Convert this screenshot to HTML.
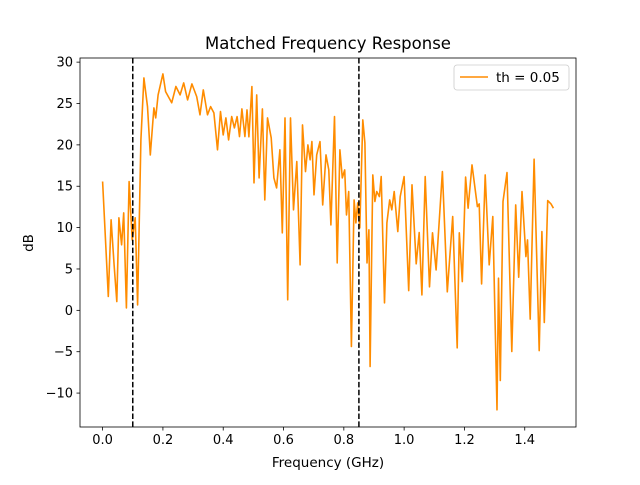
<!DOCTYPE html>
<html><head><meta charset="utf-8"><style>
body{margin:0;background:#fff}
svg{font-family:"DejaVu Sans","Liberation Sans",sans-serif}
</style></head><body>
<svg id="chart" width="640" height="480" viewBox="0 0 640 480" xmlns="http://www.w3.org/2000/svg">
<rect width="640" height="480" fill="#fff"/>
<text x="328" y="49" font-size="16.5" text-anchor="middle" fill="#000">Matched Frequency Response</text>
<g id="plot"></g>
<rect x="80" y="58" width="496" height="369" fill="none" stroke="#000" stroke-width="0.8"/>
<g id="ticks"></g>
<text x="328" y="467" font-size="13.5" text-anchor="middle">Frequency (GHz)</text>
<text x="33" y="243" font-size="13.5" text-anchor="middle" transform="rotate(-90 33 243)">dB</text>
<g>
<rect x="454" y="65" width="115" height="25" rx="3" fill="#fff" stroke="#ccc" stroke-width="0.8"/>
<line x1="460" y1="77" x2="488" y2="77" stroke="#ff8c00" stroke-width="1.5"/>
<text x="496" y="82" font-size="13.5">th = 0.05</text>
</g>
</svg>
<script>
const freq=[0,0.019,0.028,0.038,0.047,0.054,0.063,0.070,0.079,0.088,0.098,0.108,0.116,0.127,0.137,0.149,0.158,0.170,0.176,0.184,0.200,0.209,0.229,0.243,0.257,0.269,0.282,0.296,0.312,0.323,0.334,0.348,0.358,0.369,0.381,0.391,0.400,0.409,0.418,0.428,0.437,0.446,0.454,0.462,0.472,0.479,0.485,0.495,0.502,0.511,0.519,0.530,0.538,0.547,0.559,0.568,0.577,0.588,0.596,0.605,0.614,0.623,0.633,0.644,0.655,0.663,0.673,0.681,0.688,0.694,0.701,0.710,0.721,0.730,0.741,0.750,0.757,0.769,0.778,0.787,0.795,0.803,0.809,0.816,0.825,0.834,0.840,0.846,0.853,0.863,0.870,0.877,0.883,0.887,0.896,0.903,0.909,0.918,0.924,0.935,0.943,0.952,0.959,0.967,0.979,0.987,1.000,1.015,1.026,1.040,1.050,1.059,1.070,1.084,1.094,1.106,1.127,1.143,1.161,1.176,1.183,1.193,1.204,1.212,1.225,1.243,1.249,1.257,1.269,1.282,1.294,1.308,1.313,1.319,1.328,1.341,1.357,1.370,1.380,1.391,1.404,1.409,1.418,1.431,1.448,1.457,1.465,1.476,1.487,1.495];
const dB=[15.57,1.67,10.94,5.50,1.06,11.18,7.92,11.78,0.30,15.57,8.52,11.18,0.66,20.60,28.10,24.63,18.79,24.47,23.26,26.04,28.58,26.44,25.08,27.05,26.04,27.49,25.44,27.37,25.84,23.63,26.65,23.63,24.63,23.87,19.40,24.02,21.21,23.26,20.60,23.42,22.05,23.42,21.00,24.35,21.00,24.23,20.97,27.05,15.41,26.04,16.01,24.35,13.35,23.26,20.85,16.01,14.80,19.40,9.37,23.26,1.27,23.26,12.15,17.98,5.50,22.42,16.77,20.0,18.19,20.40,13.96,18.79,20.40,12.75,18.79,16.98,10.33,23.42,5.74,19.40,16.01,16.98,11.54,14.36,-4.37,13.35,10.57,12.99,9.97,23.02,20.24,5.74,9.73,-6.79,16.37,13.15,14.36,13.75,16.17,0.91,10.57,13.35,12.15,14.36,9.52,13.75,16.17,2.39,15.17,5.62,9.40,1.87,16.17,2.84,9.37,4.89,16.77,2.24,11.34,-4.53,9.37,3.48,16.10,12.35,17.58,12.54,12.87,3.20,16.37,5.50,11.34,-12.02,3.89,-8.48,13.15,16.65,-4.98,12.75,4.01,14.36,6.50,8.52,-1.06,18.27,-4.86,9.52,-1.47,13.27,12.87,12.35];
const xTicks=[0,0.2,0.4,0.6,0.8,1.0,1.2,1.4];
const xTickLabels=["0.0","0.2","0.4","0.6","0.8","1.0","1.2","1.4"];
const yTicks=[-10,-5,0,5,10,15,20,25,30];
const yTickLabels=["\u221210","\u22125","0","5","10","15","20","25","30"];
const vlines=[0.1,0.85];
const L=80,R=576,T=58,B=427,xmin=-0.075,xmax=1.57,ymin=-14.1,ymax=30.5;
const sx=v=>L+(v-xmin)/(xmax-xmin)*(R-L);
const sy=v=>B-(v-ymin)/(ymax-ymin)*(B-T);
const NS="http://www.w3.org/2000/svg";
const plot=document.getElementById('plot'),ticks=document.getElementById('ticks');
function mk(tag,attrs,parent){const e=document.createElementNS(NS,tag);for(const k in attrs)e.setAttribute(k,attrs[k]);parent.appendChild(e);return e;}
const cp=mk('clipPath',{id:'cp'},plot);mk('rect',{x:L,y:T,width:R-L,height:B-T},cp);
const pts=freq.map((f,i)=>sx(f).toFixed(1)+','+sy(dB[i]).toFixed(1)).join(' ');
const line=mk('polyline',{points:pts,fill:'none',stroke:'#ff8c00','stroke-width':1.6,'stroke-linejoin':'round','clip-path':'url(#cp)'},plot);


vlines.forEach(v=>{const l=mk('line',{x1:sx(v),x2:sx(v),y1:T,y2:B,stroke:'#000','stroke-width':1.5,'stroke-dasharray':'5.5,2.4'},plot);

});
xTicks.forEach((v,i)=>{const x=sx(v);mk('line',{x1:x,x2:x,y1:B,y2:B+3.5,stroke:'#000','stroke-width':0.8},ticks);
const t=mk('text',{x:x,y:B+17,'font-size':13,'text-anchor':'middle'},ticks);t.textContent=xTickLabels[i];

});
yTicks.forEach((v,i)=>{const y=sy(v);mk('line',{x1:L-3.5,x2:L,y1:y,y2:y,stroke:'#000','stroke-width':0.8},ticks);
const t=mk('text',{x:L-7,y:y+4.5,'font-size':13,'text-anchor':'end'},ticks);t.textContent=yTickLabels[i];

});
</script>
</body></html>
